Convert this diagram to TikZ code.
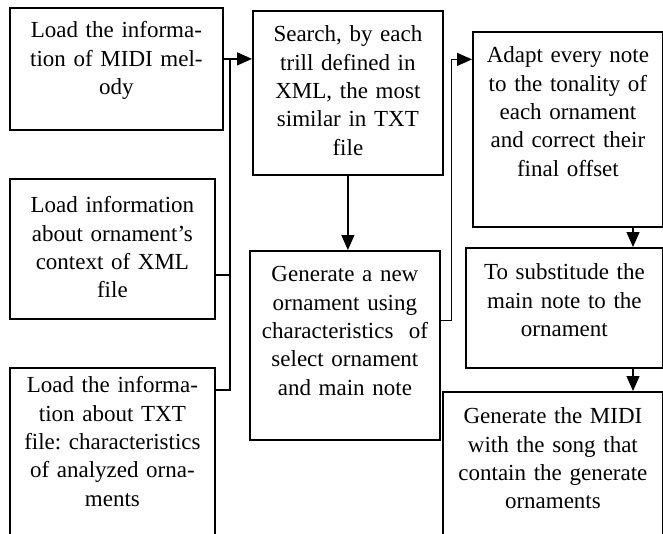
\documentclass[tikz,border=0pt]{standalone}
\usepackage{fontspec}
\setmainfont{Liberation Serif}
\usepackage{tikz}
\usetikzlibrary{arrows.meta}
\newcommand\boxfont{\fontsize{23}{28.3}\selectfont}
\frenchspacing

\begin{document}
\begin{tikzpicture}[x=1pt,y=-1pt,
  stepbox/.style={draw,line width=1.8pt,anchor=north west,inner sep=0pt,align=center,text height=31pt,font=\boxfont},
  link/.style={line width=1.2pt},
  arr/.style={link,-{Triangle[length=15pt,width=13pt]}}]
\useasboundingbox (0,0) rectangle (663,533);
\clip (0,0) rectangle (663,533);
% left column: the three inputs
\node[stepbox,text width=213pt,text height=30pt,text depth=92pt] (load) at (9,7) {Load the informa-\\tion of MIDI mel-\\ody};
\node[stepbox,text width=205pt,text height=34pt,text depth=106pt] (ctx) at (9,178) {Load information\\about ornament's\\context of XML\\file};
\node[stepbox,text width=205pt,text height=25pt,text depth=153pt] (txt) at (9,367) {Load the informa-\\tion about TXT\\file: characteristics\\of analyzed orna-\\ments};
% middle column
\node[stepbox,text width=190pt,text depth=133pt] (search) at (252,10) {Search, by each\\trill defined in\\XML, the most\\similar in TXT\\file};
\node[stepbox,text width=190pt,text depth=158pt] (gen) at (249,250) {Generate a new\\ornament using\\characteristics~ of\\select ornament\\and main note};
% right column
\node[stepbox,text width=190pt,text depth=164pt] (adapt) at (472,31) {Adapt every note\\to the tonality of\\each ornament\\and correct their\\final offset};
\node[stepbox,text width=197pt,text height=32pt,text depth=88pt] (subst) at (465,247) {To substitude the\\main note to the\\ornament};
\node[stepbox,text width=220pt,text height=32pt,text depth=122pt] (midi) at (442,391) {Generate the MIDI\\with the song that\\contain the generate\\ornaments};

\coordinate (bus) at (230,58);
\coordinate (rcol) at (633,0);
% inputs into the search
\draw[arr] ([yshift=10pt]load.east) -- ([yshift=10pt]load.east -| search.west);
\draw[link] ([yshift=-26pt]ctx.east) -| (bus);
\draw[link] ([yshift=-23pt]txt.north east) -| (bus);
\draw[arr] (search.south) -- (search.south |- gen.north);
\draw[arr] ([yshift=25pt]gen.east) -- ++(11,0) |- ([yshift=70pt]adapt.west);
\draw[arr] (adapt.south -| rcol) -- (subst.north -| rcol);
\draw[arr] (subst.south -| rcol) -- (midi.north -| rcol);
\end{tikzpicture}
\end{document}
